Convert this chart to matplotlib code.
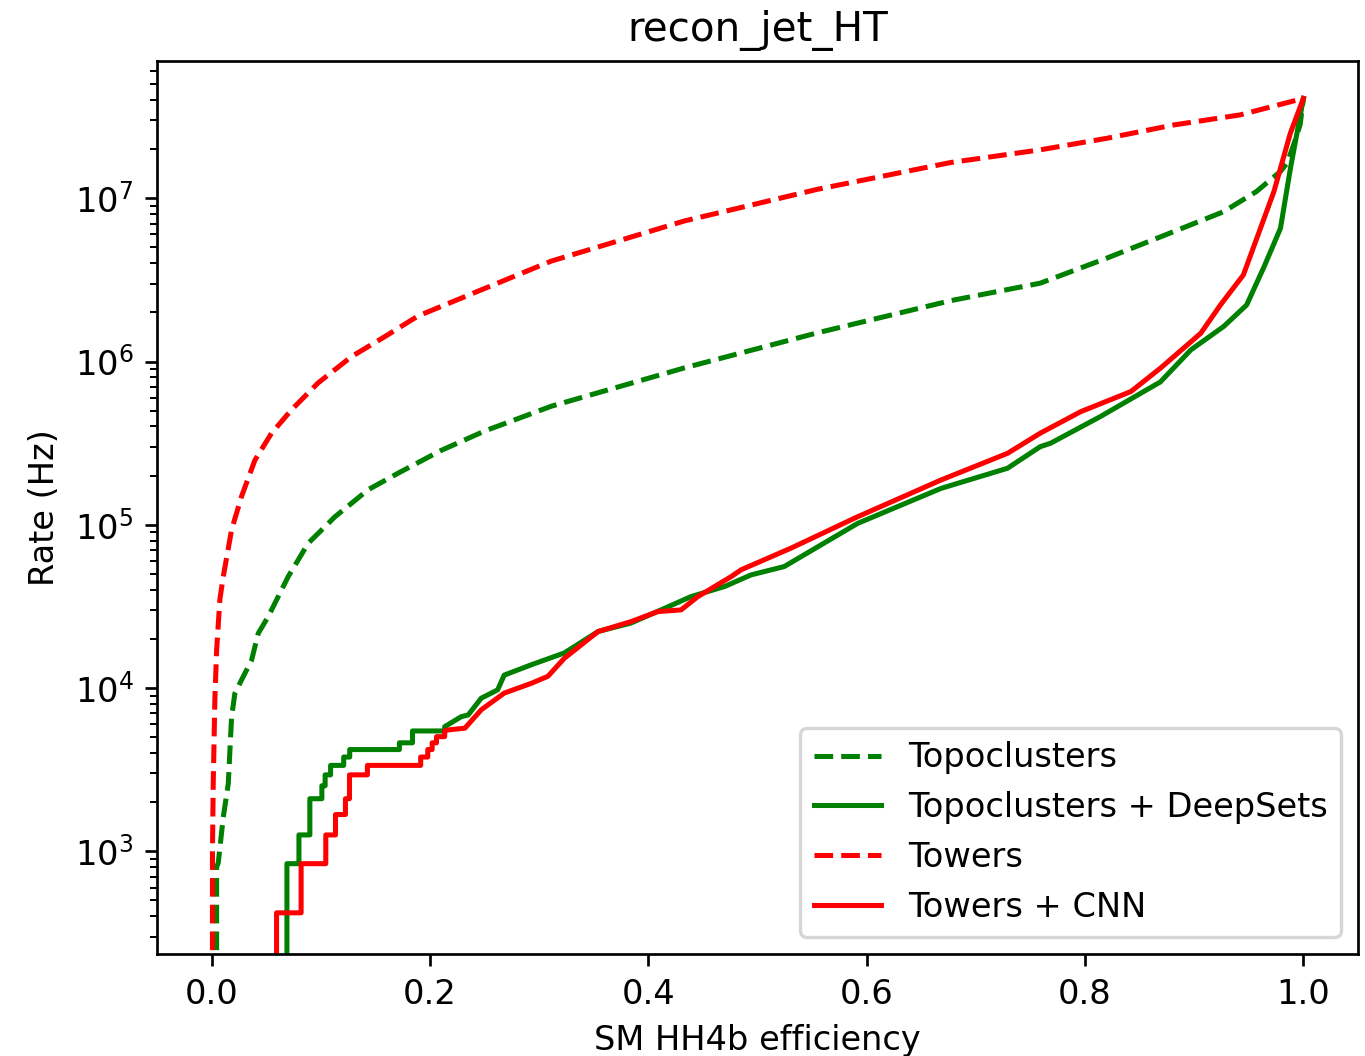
import matplotlib
matplotlib.use("Agg")
import matplotlib.pyplot as plt

# Towers (dashed red)
towers_eff = [0.0, 0.0008, 0.0015, 0.003, 0.0046, 0.0076, 0.0107, 0.0183, 0.0274, 0.0397,
              0.0549, 0.0732, 0.0976, 0.128, 0.1586, 0.189, 0.25, 0.311, 0.433, 0.555,
              0.677, 0.759, 0.82, 0.881, 0.942, 1.0]
towers_rate = [0, 1000, 2600, 8500, 17000, 35000, 48200, 93100, 149000, 249000,
               364000, 506000, 740000, 1.07e6, 1.42e6, 1.9e6, 2.8e6, 4.12e6, 7.26e6, 1.135e7,
               1.656e7, 1.98e7, 2.33e7, 2.81e7, 3.24e7, 4.09e7]

# Topoclusters (dashed green)
topo_eff = [0.0046, 0.0046, 0.0061, 0.0107, 0.0153, 0.0168, 0.0183, 0.0213, 0.0274, 0.0366,
            0.0427, 0.052, 0.0702, 0.0885, 0.113, 0.1434, 0.1708, 0.21, 0.25, 0.311,
            0.433, 0.555, 0.677, 0.759, 0.82, 0.881, 0.927, 0.957, 0.979, 0.985,
            0.991, 0.997, 1.0]
topo_rate = [0, 800, 850, 1620, 2600, 4170, 6600, 9270, 11200, 14800,
             21600, 27500, 48200, 77100, 112000, 164000, 207000, 285000, 375000, 532000,
             914000, 1.5e6, 2.36e6, 3.02e6, 4.3e6, 6.24e6, 8.28e6, 1.1e7, 1.46e7, 1.64e7,
             2.12e7, 2.82e7, 4.09e7]

# Topoclusters + DeepSets (solid green)
ds_eff = [0.069, 0.069, 0.080, 0.080, 0.090, 0.090, 0.101, 0.101, 0.104, 0.104,
          0.109, 0.109, 0.121, 0.121, 0.1265, 0.1265, 0.172, 0.172, 0.184, 0.184,
          0.2135, 0.2135, 0.2287, 0.235, 0.247, 0.262, 0.268, 0.293, 0.323, 0.354,
          0.384, 0.415, 0.439, 0.470, 0.494, 0.5245, 0.5917, 0.668, 0.729, 0.759,
          0.7685, 0.814, 0.869, 0.897, 0.927, 0.948, 0.964, 0.979, 0.988, 1.0]
ds_rate = [0, 840, 840, 1260, 1260, 2100, 2100, 2520, 2520, 2940,
           2940, 3360, 3360, 3780, 3780, 4200, 4200, 4620, 4620, 5460,
           5460, 5800, 6680, 6840, 8670, 9750, 12000, 13900, 16400, 22200,
           25000, 30800, 36300, 41900, 49300, 55500, 102000, 167000, 222000, 301000,
           316000, 460000, 750000, 1.18e6, 1.64e6, 2.22e6, 3.81e6, 6.55e6, 1.51e7, 4.09e7]

# Towers + CNN (solid red)
cnn_eff = [0.0595, 0.0595, 0.082, 0.082, 0.1046, 0.1046, 0.1135, 0.1135, 0.1226, 0.1226,
           0.1263, 0.1263, 0.1427, 0.1427, 0.1915, 0.1915, 0.198, 0.198, 0.202, 0.202,
           0.206, 0.206, 0.2135, 0.2135, 0.2166, 0.232, 0.247, 0.268, 0.293, 0.308,
           0.323, 0.354, 0.384, 0.4087, 0.43, 0.4453, 0.476, 0.485, 0.5306, 0.5917,
           0.668, 0.729, 0.759, 0.796, 0.842, 0.869, 0.906, 0.924, 0.945, 0.973,
           0.988, 1.0]
cnn_rate = [0, 420, 420, 840, 840, 1260, 1260, 1680, 1680, 2100,
            2100, 2940, 2940, 3360, 3360, 3780, 3780, 4200, 4200, 4620,
            4620, 5040, 5040, 5460, 5540, 5680, 7360, 9310, 10700, 11800,
            15200, 22200, 25500, 29400, 30100, 36300, 48200, 53000, 71900, 112000,
            188000, 274000, 364000, 493000, 655000, 910000, 1.49e6, 2.22e6, 3.39e6, 1.1e7,
            2.5e7, 4.09e7]

DPI = 242
fig = plt.figure(figsize=(1365 / DPI, 1056 / DPI), dpi=DPI)
ax = fig.add_axes([157 / 1365, 1 - 954 / 1056, (1358 - 157) / 1365, (954 - 61) / 1056])

ax.plot(topo_eff, topo_rate, color="green", linestyle="--", label="Topoclusters")
ax.plot(ds_eff, ds_rate, color="green", linestyle="-", label="Topoclusters + DeepSets")
ax.plot(towers_eff, towers_rate, color="red", linestyle="--", label="Towers")
ax.plot(cnn_eff, cnn_rate, color="red", linestyle="-", label="Towers + CNN")

ax.set_yscale("log")
ax.set_xlim(-0.05, 1.05)
ax.set_ylim(235, 6.93e7)
ax.set_title("recon_jet_HT")
ax.set_xlabel("SM HH4b efficiency")
ax.set_ylabel("Rate (Hz)")
ax.legend(loc="lower right")

fig.savefig("out.png", dpi=DPI)
